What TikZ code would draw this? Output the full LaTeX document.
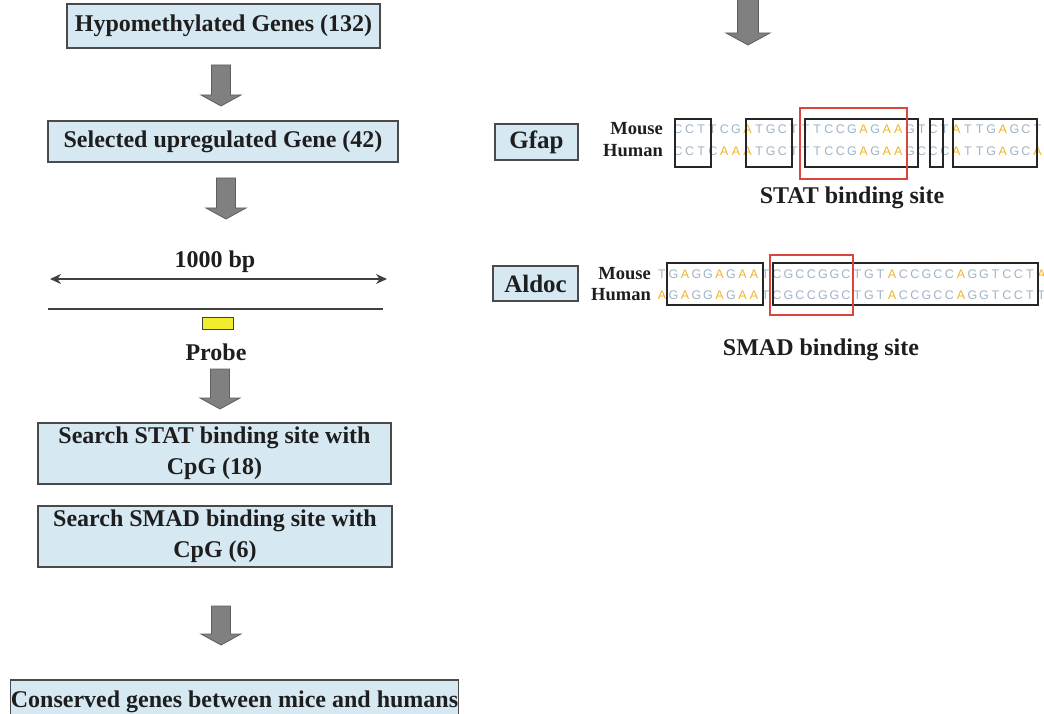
\documentclass[tikz,border=0pt]{standalone}
\usepackage{fontspec}
\setmainfont{Liberation Serif}
\newfontfamily\seqfont{Liberation Sans}
\usetikzlibrary{arrows.meta}
\definecolor{boxfill}{HTML}{D6E8F2}
\definecolor{boxline}{HTML}{4A4A4A}
\definecolor{txt}{HTML}{1E1E1E}
\definecolor{arrfill}{HTML}{808080}
\definecolor{arrline}{HTML}{5E5E5E}
\definecolor{seqA}{HTML}{F0B52A}
\definecolor{seqB}{HTML}{9FB4C9}
\definecolor{redbox}{HTML}{D8463C}
\definecolor{probecol}{HTML}{F2EC2E}
\tikzset{
  flowbox/.style={draw=boxline, fill=boxfill, line width=1.3pt, inner sep=0pt, text=txt,
    font=\bfseries\fontsize{24}{31}\selectfont, align=center},
  genebox/.style={flowbox, font=\bfseries\fontsize{25}{30}\selectfont},
  lbl/.style={text=txt, font=\bfseries\fontsize{24}{28}\selectfont, inner sep=0pt},
  species/.style={text=txt, font=\bfseries\fontsize{18.5}{20}\selectfont, inner sep=0pt, anchor=east},
  seqch/.style={font=\seqfont\fontsize{12.5}{13}\selectfont, inner sep=0pt},
  seqbox/.style={draw=black!85, line width=1.2pt},
  sitebox/.style={draw=redbox, line width=2.4pt},
  blk/.style={fill=arrfill, draw=arrline, line width=0.8pt},
  rule/.style={draw=black!75, line width=1.4pt},
}
\newcommand\blkarrow[6]{% cx, top, head, tip, shaft half width, head half width
  \draw[blk] ({#1-#5},#2) -- ({#1+#5},#2) -- ({#1+#5},#3) -- ({#1+#6},#3) -- (#1,#4)
    -- ({#1-#6},#3) -- ({#1-#5},#3) -- cycle;}
\newcommand\seqrow[5]{% prefix, x0, pitch, y, letters
  \foreach \ch [count=\i from 0] in {#5} {
    \if\ch A\def\seqcol{seqA}\else\def\seqcol{seqB}\fi
    \node[seqch, text=\seqcol] (#1\i) at ({#2+\i*#3},#4) {\ch};
  }}
\begin{document}
\begin{tikzpicture}[x=1pt,y=-1pt]
\useasboundingbox (0,0) rectangle (1044,714);
\clip (0,0) rectangle (1044,714);
\fill[white] (0,0) rectangle (1044,714);

% ---- left flow ----
\node[flowbox, minimum width=313pt, minimum height=44pt] (b1) at (223.5,26) {Hypomethylated Genes (132)};
\blkarrow{221}{65}{95}{106}{9.5}{20}
\node[flowbox, minimum width=350pt, minimum height=41pt] (b2) at (223,141.5) {Selected upregulated Gene (42)};
\blkarrow{226}{178}{208}{219}{9.5}{20}

\node[lbl] (bp) at (215,262) {1000 bp};
\coordinate (bpL) at (50,279);
\coordinate (bpR) at (387,279);
\draw[rule, {Stealth[length=11pt,width=10pt]}-{Stealth[length=11pt,width=10pt]}] (bpL) -- (bpR);
\coordinate (gL) at (48,309);
\coordinate (gR) at (383,309);
\draw[rule, line width=1.2pt] (gL) -- (gR);
\node[draw=black!75, fill=probecol, line width=0.9pt, minimum width=31pt, minimum height=12pt, inner sep=0pt] (probebar) at (217.5,323.5) {};
\node[lbl] (probe) at (216,352) {Probe};
\blkarrow{220}{369}{398}{409}{9.5}{20}

\node[flowbox, minimum width=353pt, minimum height=61pt] (b3) at (214.5,453.5) {Search STAT binding site with\\CpG (18)};
\node[flowbox, minimum width=354pt, minimum height=61pt] (b4) at (215,536.5) {Search SMAD binding site with\\CpG (6)};
\blkarrow{221}{606}{634}{645}{9.5}{20}
\node[flowbox, minimum width=443pt, minimum height=44pt] (b5) at (234.5,702) {Conserved genes between mice and humans};

% ---- right side ----
\blkarrow{748}{-2}{33}{45}{10.5}{22}

% Gfap
\node[genebox, minimum width=83pt, minimum height=36pt] (gfap) at (536.5,142) {Gfap};
\node[species] (gmouse) at (663,129) {Mouse};
\node[species] (ghuman) at (663,151) {Human};
\seqrow{gm}{678}{11.6}{129}{C,C,T,T,C,G,A,T,G,C,T,T,T,C,C,G,A,G,A,A,G,T,C,T,A,T,T,G,A,G,C,T}
\seqrow{gh}{678}{11.6}{151}{C,C,T,C,A,A,A,T,G,C,T,T,T,C,C,G,A,G,A,A,G,C,C,C,A,T,T,G,A,G,C,A}
\draw[seqbox] (675,119) rectangle (711,167);
\draw[seqbox] (746,119) rectangle (792,167);
\draw[seqbox] (805,119) rectangle (918,167);
\draw[seqbox] (930,119) rectangle (943,167);
\draw[seqbox] (953,119) rectangle (1037,167);
\draw[sitebox] (800,108) rectangle (907,179);
\node[lbl] (stat) at (852,198) {STAT binding site};

% Aldoc
\node[genebox, minimum width=85pt, minimum height=35pt] (aldoc) at (535.5,283.5) {Aldoc};
\node[species] (amouse) at (651,274) {Mouse};
\node[species] (ahuman) at (651,295) {Human};
\seqrow{am}{662}{11.5}{274}{T,G,A,G,G,A,G,A,A,T,C,G,C,C,G,G,C,T,G,T,A,C,C,G,C,C,A,G,G,T,C,C,T,A}
\seqrow{ah}{662}{11.5}{295}{A,G,A,G,G,A,G,A,A,T,C,G,C,C,G,G,C,T,G,T,A,C,C,G,C,C,A,G,G,T,C,C,T,T}
\draw[seqbox] (667,263) rectangle (763,305);
\draw[seqbox] (773,263) rectangle (1038,305);
\draw[sitebox] (770,255) rectangle (853,315);
\node[lbl] (smad) at (821,350) {SMAD binding site};
\end{tikzpicture}
\end{document}
